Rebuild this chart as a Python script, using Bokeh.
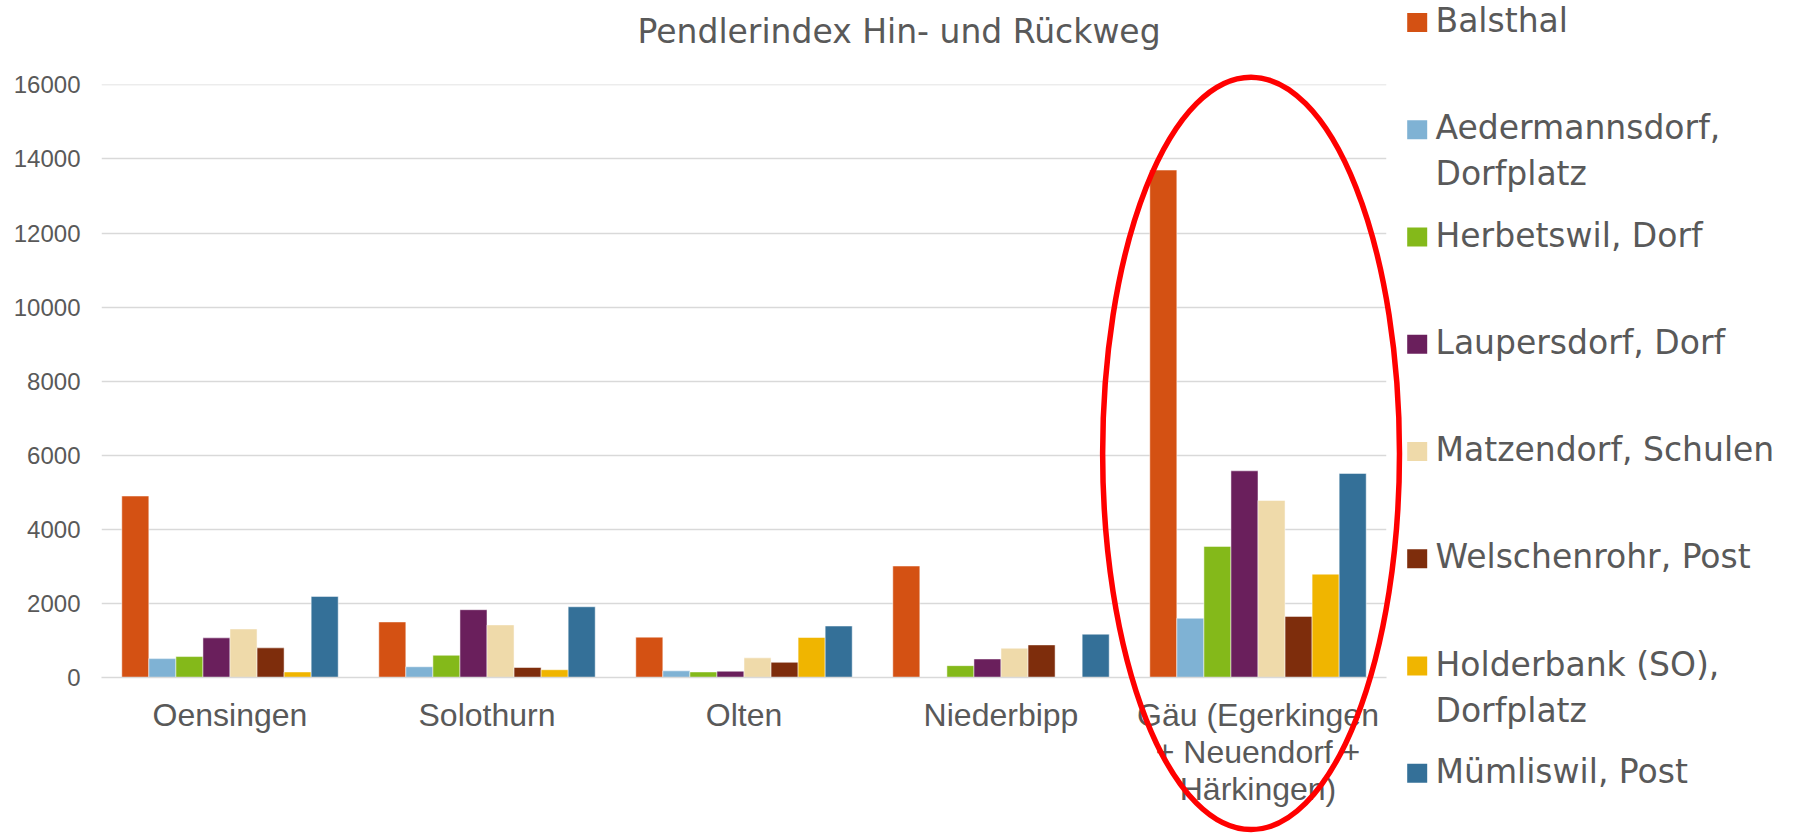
from bokeh.plotting import figure
from bokeh.models import (ColumnDataSource, FactorRange, Range1d, FixedTicker)
from bokeh.core.properties import value
from bokeh.transform import dodge
from bokeh.embed import file_html
from bokeh.resources import INLINE

# ---------------- data ----------------
categories = ["Oensingen", "Solothurn", "Olten", "Niederbipp",
              "Gäu (Egerkingen\n+ Neuendorf +\nHärkingen)"]

series_names = ["Balsthal", "Aedermannsdorf, Dorfplatz", "Herbetswil, Dorf",
                "Laupersdorf, Dorf", "Matzendorf, Schulen", "Welschenrohr, Post",
                "Holderbank (SO), Dorfplatz", "Mümliswil, Post"]
legend_labels = ["Balsthal", "Aedermannsdorf,\nDorfplatz", "Herbetswil, Dorf",
                 "Laupersdorf, Dorf", "Matzendorf, Schulen", "Welschenrohr, Post",
                 "Holderbank (SO),\nDorfplatz", "Mümliswil, Post"]

balsthal = [4900, 1500, 1090, 3010, 13700]
aedermannsdorf = [510, 290, 180, 0, 1600]
herbetswil = [565, 600, 150, 320, 3540]
laupersdorf = [1070, 1830, 170, 500, 5580]
matzendorf = [1310, 1420, 530, 790, 4780]
welschenrohr = [800, 270, 410, 880, 1650]
holderbank = [150, 210, 1080, 0, 2790]
muemliswil = [2190, 1910, 1390, 1170, 5510]

series_values = [balsthal, aedermannsdorf, herbetswil, laupersdorf,
                 matzendorf, welschenrohr, holderbank, muemliswil]
colors = ["#D45113", "#7FB2D4", "#84B91A", "#6A1F5C",
          "#EFDAAA", "#7E2D0C", "#F0B500", "#347098"]

y_ticks = [0, 2000, 4000, 6000, 8000, 10000, 12000, 14000, 16000]
y_max = 16010

# highlight ellipse around the Gäu group (centre offset / size in data units)
highlight_dx = -0.027
highlight_width = 1.155
highlight_cy = 6050
highlight_height = 20311

# ---------------- layout constants (pixels) ----------------
W, H = 1796, 833
FRAME_L, FRAME_R, FRAME_T, FRAME_B = 101, 1386, 84, 677
LEG_MARK_X = 1416.7      # centre of legend swatches
LEG_TEXT_X = 1435        # start of legend labels
LEG_TOP = 22             # centre of first legend entry
LEG_PITCH = 107.25       # distance between legend entries
LEG_LINE = 46            # line pitch inside a wrapped legend label

TEXT = "#595959"
GRID = "#D9D9D9"

p = figure(width=W, height=H, x_range=FactorRange(*categories),
           y_range=Range1d(0, y_max), output_backend="svg", toolbar_location=None,
           min_border_left=FRAME_L, min_border_right=W - FRAME_R,
           min_border_top=FRAME_T, min_border_bottom=H - FRAME_B)
p.outline_line_color = None
p.background_fill_color = "white"
p.border_fill_color = "white"

# pixel-space y range for the legend drawn outside the frame
p.extra_y_ranges = {"px": Range1d(FRAME_B, FRAME_T)}


def px_to_cat(px):
    """screen x (pixels) -> synthetic categorical coordinate"""
    return (px - FRAME_L) / ((FRAME_R - FRAME_L) / len(categories))


p.title.text = "Pendlerindex Hin- und Rückweg"
p.title.text_font = "DejaVu Sans"
p.title.text_font_size = "33px"
p.title.text_font_style = "normal"
p.title.text_color = TEXT
p.title.align = "left"
p.title.offset = 536
p.title.vertical_align = "top"
p.title.standoff = 0
try:
    p.title.padding = dict(left=0, right=0, top=0, bottom=32)
except Exception:
    pass

data = {"cat": categories}
for name, vals in zip(series_names, series_values):
    data[name] = vals
source = ColumnDataSource(data)

n = len(series_names)
bar_w = 1.0 / (n + 1.5)       # Excel gap width 150 %
for i, (name, col) in enumerate(zip(series_names, colors)):
    off = (i - (n - 1) / 2) * bar_w
    p.vbar(x=dodge("cat", off, range=p.x_range), top=name, width=bar_w,
           source=source, fill_color=col, line_color="white", line_alpha=0.5,
           line_width=1)

# axes
p.xaxis.major_label_text_font = "Liberation Sans"
p.xaxis.major_label_text_font_size = "32px"
p.xaxis.major_label_text_color = TEXT
p.xaxis.major_label_text_line_height = 1.03
p.xaxis.major_label_standoff = 13
p.xaxis.major_tick_line_color = None
p.xaxis.minor_tick_line_color = None
p.xaxis.axis_line_color = GRID
p.xaxis.axis_line_width = 1.4

p.yaxis.ticker = FixedTicker(ticks=y_ticks)
p.yaxis.major_label_text_font = "Liberation Sans"
p.yaxis.major_label_text_font_size = "24px"
p.yaxis.major_label_text_color = TEXT
p.yaxis.major_label_standoff = 15
p.yaxis.major_tick_line_color = None
p.yaxis.minor_tick_line_color = None
p.yaxis.axis_line_color = None

p.xgrid.grid_line_color = None
p.ygrid.grid_line_color = GRID
p.ygrid.grid_line_width = 1.4

# ---------------- legend (swatches + labels, right of the frame) ----------------
sw_y = [LEG_TOP + i * LEG_PITCH for i in range(n)]
p.rect(x=[px_to_cat(LEG_MARK_X)] * n, y=sw_y, width=20, height=19,
       width_units="screen", height_units="screen",
       fill_color=colors, line_color=None,
       y_range_name="px", level="overlay")

lx, ly, lt = [], [], []
for i, lab in enumerate(legend_labels):
    for k, line in enumerate(lab.split("\n")):
        lx.append(px_to_cat(LEG_TEXT_X))
        ly.append(sw_y[i] - 2 + k * LEG_LINE)
        lt.append(line)
p.text(x=lx, y=ly, text=lt, text_font=value("DejaVu Sans"),
       text_font_size=value("33px"), text_color=TEXT,
       text_align="left", text_baseline="middle",
       y_range_name="px", level="overlay")

# red ellipse highlighting the Gäu group, drawn at overlay level (unclipped)
gi = len(categories) - 1
p.ellipse(x=[gi + 0.5 + highlight_dx], y=[highlight_cy],
          width=[highlight_width], height=[highlight_height],
          fill_color=None, line_color="#FF0000", line_width=5.5, level="overlay")

open("out.html", "w").write(file_html(p, INLINE))
